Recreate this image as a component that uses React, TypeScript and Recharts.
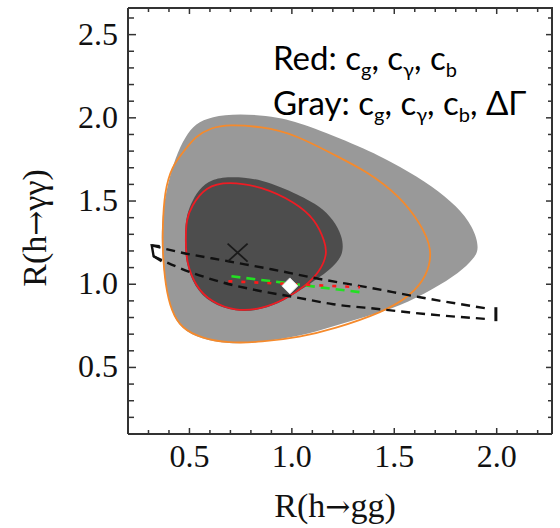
import React from 'react'
import { ComposedChart, Scatter, XAxis, YAxis, ReferenceLine } from 'recharts'

// light gray region (cg, cγ, cb, ΔΓ)
const grayOuter = [
  { x: 0.364, y: 1.198 }, { x: 0.364, y: 1.354 }, { x: 0.383, y: 1.558 }, { x: 0.432, y: 1.768 },
  { x: 0.48, y: 1.888 }, { x: 0.529, y: 1.966 }, { x: 0.607, y: 2.008 }, { x: 0.739, y: 2.026 },
  { x: 0.934, y: 2.008 }, { x: 1.095, y: 1.948 }, { x: 1.368, y: 1.81 }, { x: 1.528, y: 1.708 },
  { x: 1.689, y: 1.588 }, { x: 1.806, y: 1.468 }, { x: 1.884, y: 1.348 }, { x: 1.918, y: 1.21 },
  { x: 1.884, y: 1.15 }, { x: 1.821, y: 1.072 }, { x: 1.689, y: 0.97 }, { x: 1.528, y: 0.868 },
  { x: 1.368, y: 0.808 }, { x: 1.202, y: 0.748 }, { x: 1.041, y: 0.688 }, { x: 0.851, y: 0.652 },
  { x: 0.69, y: 0.64 }, { x: 0.558, y: 0.67 }, { x: 0.461, y: 0.73 }, { x: 0.412, y: 0.832 },
  { x: 0.383, y: 0.988 },
]

// dark gray region
const grayInner = [
  { x: 0.477, y: 1.27 }, { x: 0.481, y: 1.39 }, { x: 0.505, y: 1.48 }, { x: 0.544, y: 1.57 },
  { x: 0.607, y: 1.63 }, { x: 0.69, y: 1.648 }, { x: 0.851, y: 1.636 }, { x: 1.041, y: 1.534 },
  { x: 1.138, y: 1.468 }, { x: 1.202, y: 1.39 }, { x: 1.246, y: 1.288 }, { x: 1.251, y: 1.21 },
  { x: 1.236, y: 1.15 }, { x: 1.172, y: 1.072 }, { x: 1.104, y: 1.018 }, { x: 1.055, y: 0.976 },
  { x: 0.968, y: 0.904 }, { x: 0.851, y: 0.844 }, { x: 0.724, y: 0.832 }, { x: 0.602, y: 0.886 },
  { x: 0.524, y: 0.982 }, { x: 0.481, y: 1.132 },
]

const orangeContour = [
  { x: 0.369, y: 1.191 }, { x: 0.369, y: 1.347 }, { x: 0.378, y: 1.551 }, { x: 0.412, y: 1.707 },
  { x: 0.48, y: 1.81 }, { x: 0.529, y: 1.888 }, { x: 0.607, y: 1.942 }, { x: 0.69, y: 1.96 },
  { x: 0.851, y: 1.948 }, { x: 1.017, y: 1.9 }, { x: 1.202, y: 1.78 }, { x: 1.368, y: 1.678 },
  { x: 1.528, y: 1.528 }, { x: 1.625, y: 1.371 }, { x: 1.689, y: 1.21 }, { x: 1.66, y: 1.048 },
  { x: 1.577, y: 0.928 }, { x: 1.445, y: 0.832 }, { x: 1.202, y: 0.73 }, { x: 1.041, y: 0.682 },
  { x: 0.851, y: 0.652 }, { x: 0.69, y: 0.646 }, { x: 0.558, y: 0.676 }, { x: 0.461, y: 0.736 },
  { x: 0.412, y: 0.838 }, { x: 0.383, y: 0.988 },
]

const redContour = [
  { x: 0.481, y: 1.27 }, { x: 0.485, y: 1.39 }, { x: 0.509, y: 1.468 }, { x: 0.578, y: 1.588 },
  { x: 0.69, y: 1.618 }, { x: 0.851, y: 1.588 }, { x: 1.017, y: 1.492 }, { x: 1.114, y: 1.39 },
  { x: 1.163, y: 1.252 }, { x: 1.172, y: 1.18 }, { x: 1.138, y: 1.078 }, { x: 1.065, y: 0.988 },
  { x: 0.968, y: 0.91 }, { x: 0.851, y: 0.85 }, { x: 0.724, y: 0.838 }, { x: 0.607, y: 0.892 },
  { x: 0.529, y: 0.988 }, { x: 0.485, y: 1.132 },
]

// band of the dashed black lines
const bandUpper = [
  { x: 0.316, y: 1.234 }, { x: 0.432, y: 1.198 }, { x: 0.69, y: 1.138 }, { x: 0.9, y: 1.09 },
  { x: 1.143, y: 1.03 }, { x: 1.367, y: 0.982 }, { x: 1.625, y: 0.922 }, { x: 1.943, y: 0.856 },
]
const bandLower = [
  { x: 0.325, y: 1.168 }, { x: 0.432, y: 1.108 }, { x: 0.641, y: 1.018 }, { x: 0.851, y: 0.958 },
  { x: 1.016, y: 0.922 }, { x: 1.202, y: 0.88 }, { x: 1.431, y: 0.85 }, { x: 1.66, y: 0.82 },
  { x: 1.943, y: 0.792 },
]
const bandLeftCap = [
  { x: 0.355, y: 1.228 }, { x: 0.316, y: 1.234 }, { x: 0.325, y: 1.168 }, { x: 0.364, y: 1.138 },
]
const bandRightCap = [{ x: 1.996, y: 0.862 }, { x: 1.996, y: 0.778 }]

const greenDash = [{ x: 0.705, y: 1.048 }, { x: 1.333, y: 0.952 }]
const redDash = [{ x: 0.69, y: 1.018 }, { x: 1.333, y: 0.982 }]

const bestFit = [{ x: 0.735, y: 1.19 }]
const standardModel = [{ x: 0.99, y: 0.99 }]

const xDomain = [0.2, 2.27]
const yDomain = [0.1, 2.66]
const xTicks = [0.2, 0.3, 0.4, 0.5, 0.6, 0.7, 0.8, 0.9, 1.0, 1.1, 1.2, 1.3, 1.4, 1.5, 1.6, 1.7, 1.8, 1.9, 2.0, 2.1, 2.2]
const yTicks = [0.1, 0.2, 0.3, 0.4, 0.5, 0.6, 0.7, 0.8, 0.9, 1.0, 1.1, 1.2, 1.3, 1.4, 1.5, 1.6, 1.7, 1.8, 1.9, 2.0, 2.1, 2.2, 2.3, 2.4, 2.5, 2.6]
const xMajor = [0.5, 1.0, 1.5, 2.0]
const xMajorLabels = ['0.5', '1.0', '1.5', '2.0']
const yMajor = [0.5, 1.0, 1.5, 2.0, 2.5]
const yMajorLabels = ['0.5', '1.0', '1.5', '2.0', '2.5']

const W = 560
const H = 528
const MARGIN = { top: 8, right: 8, bottom: 0, left: 0 }
const Y_AXIS_W = 128
const X_AXIS_H = 94
// plot box, used only for the mirrored frame on top/right
const PLOT = {
  left: MARGIN.left + Y_AXIS_W,
  right: W - MARGIN.right,
  top: MARGIN.top,
  bottom: H - MARGIN.bottom - X_AXIS_H,
}
const px = (v: number) => PLOT.left + ((v - xDomain[0]) / (xDomain[1] - xDomain[0])) * (PLOT.right - PLOT.left)
const py = (v: number) => PLOT.bottom - ((v - yDomain[0]) / (yDomain[1] - yDomain[0])) * (PLOT.bottom - PLOT.top)

const SERIF = "'Liberation Serif', 'Times New Roman', serif"
const ARROW_FONT = "'DejaVu Serif', serif"
const SANS = "Lato, 'Open Sans', sans-serif"
const FRAME = '#333333'

const labelFor = (v: number, majors: number[], labels: string[]) => {
  const i = majors.findIndex((m) => Math.abs(m - v) < 1e-6)
  return i >= 0 ? labels[i] : null
}

const BottomTick = (props: any) => {
  const { x, y, payload } = props
  const label = labelFor(payload.value, xMajor, xMajorLabels)
  return (
    <g>
      <line x1={x} x2={x} y1={y} y2={y - (label ? 6 : 4)} stroke={FRAME} strokeWidth={1.5} />
      {label && (
        <text x={x} y={y + 33} textAnchor="middle" fontFamily={SERIF} fontSize={32} fill="#111">
          {label}
        </text>
      )}
    </g>
  )
}

const LeftTick = (props: any) => {
  const { x, y, payload } = props
  const label = labelFor(payload.value, yMajor, yMajorLabels)
  return (
    <g>
      <line x1={x} x2={x + (label ? 8 : 6)} y1={y} y2={y} stroke={FRAME} strokeWidth={1.5} />
      {label && (
        <text x={x - 10} y={y + 10} textAnchor="end" fontFamily={SERIF} fontSize={32} fill="#111">
          {label}
        </text>
      )}
    </g>
  )
}

const NoDot = () => <g />

const XMark = (props: any) => {
  const { cx, cy } = props
  return (
    <g stroke="#1a1a1a" strokeWidth={1.8}>
      <line x1={cx - 10} y1={cy - 9} x2={cx + 10} y2={cy + 9} />
      <line x1={cx - 10} y1={cy + 9} x2={cx + 10} y2={cy - 9} />
    </g>
  )
}

const Diamond = (props: any) => {
  const { cx, cy } = props
  const s = 8
  return (
    <polygon
      points={`${cx},${cy - s} ${cx + s},${cy} ${cx},${cy + s} ${cx - s},${cy}`}
      fill="#ffffff"
      stroke="#dddddd"
      strokeWidth={1}
    />
  )
}

const XTitle = (props: any) => {
  const vb = props.viewBox || { x: 128, y: 434, width: 424, height: 94 }
  return (
    <text x={vb.x + vb.width / 2 - 5} y={vb.y + 83} textAnchor="middle" fontFamily={SERIF} fontSize={34} fill="#111">
      R(h<tspan fontFamily={ARROW_FONT} fontSize={30}>→</tspan>gg)
    </text>
  )
}

const YTitle = (props: any) => {
  const vb = props.viewBox || { x: 0, y: 8, width: 128, height: 426 }
  const cx = vb.x + 46
  const cy = vb.y + vb.height / 2 + 7
  return (
    <text x={cx} y={cy} transform={`rotate(-90 ${cx} ${cy})`} textAnchor="middle" fontFamily={SERIF} fontSize={34} fill="#111">
      R(h<tspan fontFamily={ARROW_FONT} fontSize={30}>→</tspan>γγ)
    </text>
  )
}

export default function App() {
  return (
    <div style={{ position: 'absolute', left: 0, top: 0, width: W, height: H, background: '#fff' }}>
      <svg width={W} height={H} style={{ position: 'absolute', left: 0, top: 0 }}>
        <text x={273} y={70} fontFamily={SANS} fontSize={33} fill="#000">
          Red: c<tspan dy={7} fontSize={20}>g</tspan>
          <tspan dy={-7}>, c</tspan><tspan dy={7} fontSize={20}>γ</tspan>
          <tspan dy={-7}>, c</tspan><tspan dy={7} fontSize={20}>b</tspan>
        </text>
        <text x={273} y={115} fontFamily={SANS} fontSize={33} fill="#000">
          Gray: c<tspan dy={7} fontSize={20}>g</tspan>
          <tspan dy={-7}>, c</tspan><tspan dy={7} fontSize={20}>γ</tspan>
          <tspan dy={-7}>, c</tspan><tspan dy={7} fontSize={20}>b</tspan>
          <tspan dy={-7}>, ΔΓ</tspan>
        </text>
      </svg>

      <div style={{ position: 'absolute', left: 0, top: 0 }}>
        <ComposedChart width={W} height={H} margin={MARGIN}>
          <XAxis
            dataKey="x"
            type="number"
            domain={xDomain}
            allowDataOverflow
            ticks={xTicks}
            interval={0}
            height={X_AXIS_H}
            tickSize={0}
            tickMargin={0}
            tickLine={false}
            tick={<BottomTick />}
            axisLine={{ stroke: FRAME, strokeWidth: 2 }}
            label={<XTitle />}
          />
          <YAxis
            dataKey="y"
            type="number"
            domain={yDomain}
            allowDataOverflow
            ticks={yTicks}
            interval={0}
            width={Y_AXIS_W}
            tickSize={0}
            tickMargin={0}
            tickLine={false}
            tick={<LeftTick />}
            axisLine={{ stroke: FRAME, strokeWidth: 2 }}
            label={<YTitle />}
          />

          <Scatter data={grayOuter} shape={NoDot} line={{ fill: '#999999', stroke: 'none' }} lineType="joint" lineJointType="basisClosed" isAnimationActive={false} />
          <Scatter data={grayInner} shape={NoDot} line={{ fill: '#4d4d4d', stroke: 'none' }} lineType="joint" lineJointType="basisClosed" isAnimationActive={false} />
          <Scatter data={orangeContour} shape={NoDot} line={{ fill: 'none', stroke: '#f58a2c', strokeWidth: 1.8 }} lineType="joint" lineJointType="basisClosed" isAnimationActive={false} />
          <Scatter data={redContour} shape={NoDot} line={{ fill: 'none', stroke: '#ee1c24', strokeWidth: 1.8 }} lineType="joint" lineJointType="basisClosed" isAnimationActive={false} />

          <Scatter data={bandUpper} shape={NoDot} line={{ fill: 'none', stroke: '#111', strokeWidth: 2.4, strokeDasharray: '9 6' }} lineType="joint" lineJointType="monotoneX" isAnimationActive={false} />
          <Scatter data={bandLower} shape={NoDot} line={{ fill: 'none', stroke: '#111', strokeWidth: 2.4, strokeDasharray: '9 6' }} lineType="joint" lineJointType="monotoneX" isAnimationActive={false} />
          <Scatter data={bandLeftCap} shape={NoDot} line={{ fill: 'none', stroke: '#111', strokeWidth: 2.4 }} lineType="joint" lineJointType="linear" isAnimationActive={false} />
          <Scatter data={bandRightCap} shape={NoDot} line={{ fill: 'none', stroke: '#111', strokeWidth: 3 }} lineType="joint" lineJointType="linear" isAnimationActive={false} />

          <Scatter data={greenDash} shape={NoDot} line={{ fill: 'none', stroke: '#22e022', strokeWidth: 2.6, strokeDasharray: '9 6' }} lineType="joint" lineJointType="linear" isAnimationActive={false} />
          <Scatter data={redDash} shape={NoDot} line={{ fill: 'none', stroke: '#ff1a1a', strokeWidth: 2.6, strokeDasharray: '4 9' }} lineType="joint" lineJointType="linear" isAnimationActive={false} />

          <Scatter data={bestFit} shape={XMark} isAnimationActive={false} />
          <Scatter data={standardModel} shape={Diamond} isAnimationActive={false} />

          <ReferenceLine
            segment={[{ x: xDomain[0], y: yDomain[1] }, { x: xDomain[1], y: yDomain[1] }]}
            ifOverflow="visible"
            stroke={FRAME}
            strokeWidth={2}
          />
          <ReferenceLine
            segment={[{ x: xDomain[1], y: yDomain[0] }, { x: xDomain[1], y: yDomain[1] }]}
            ifOverflow="visible"
            stroke={FRAME}
            strokeWidth={2}
          />
        </ComposedChart>
      </div>

      {/* mirrored frame: top and right edges with inward ticks */}
      <svg width={W} height={H} style={{ position: 'absolute', left: 0, top: 0, pointerEvents: 'none' }}>
        <line x1={PLOT.left} x2={PLOT.right + 1} y1={PLOT.top} y2={PLOT.top} stroke={FRAME} strokeWidth={2} />
        <line x1={PLOT.right} x2={PLOT.right} y1={PLOT.top} y2={PLOT.bottom} stroke={FRAME} strokeWidth={2} />
        {xTicks.map((v) => (
          <line
            key={`t${v}`}
            x1={px(v)}
            x2={px(v)}
            y1={PLOT.top}
            y2={PLOT.top + (labelFor(v, xMajor, xMajorLabels) ? 6 : 4)}
            stroke={FRAME}
            strokeWidth={1.5}
          />
        ))}
        {yTicks.map((v) => (
          <line
            key={`r${v}`}
            x1={PLOT.right}
            x2={PLOT.right - (labelFor(v, yMajor, yMajorLabels) ? 6 : 4)}
            y1={py(v)}
            y2={py(v)}
            stroke={FRAME}
            strokeWidth={1.5}
          />
        ))}
      </svg>
    </div>
  )
}
